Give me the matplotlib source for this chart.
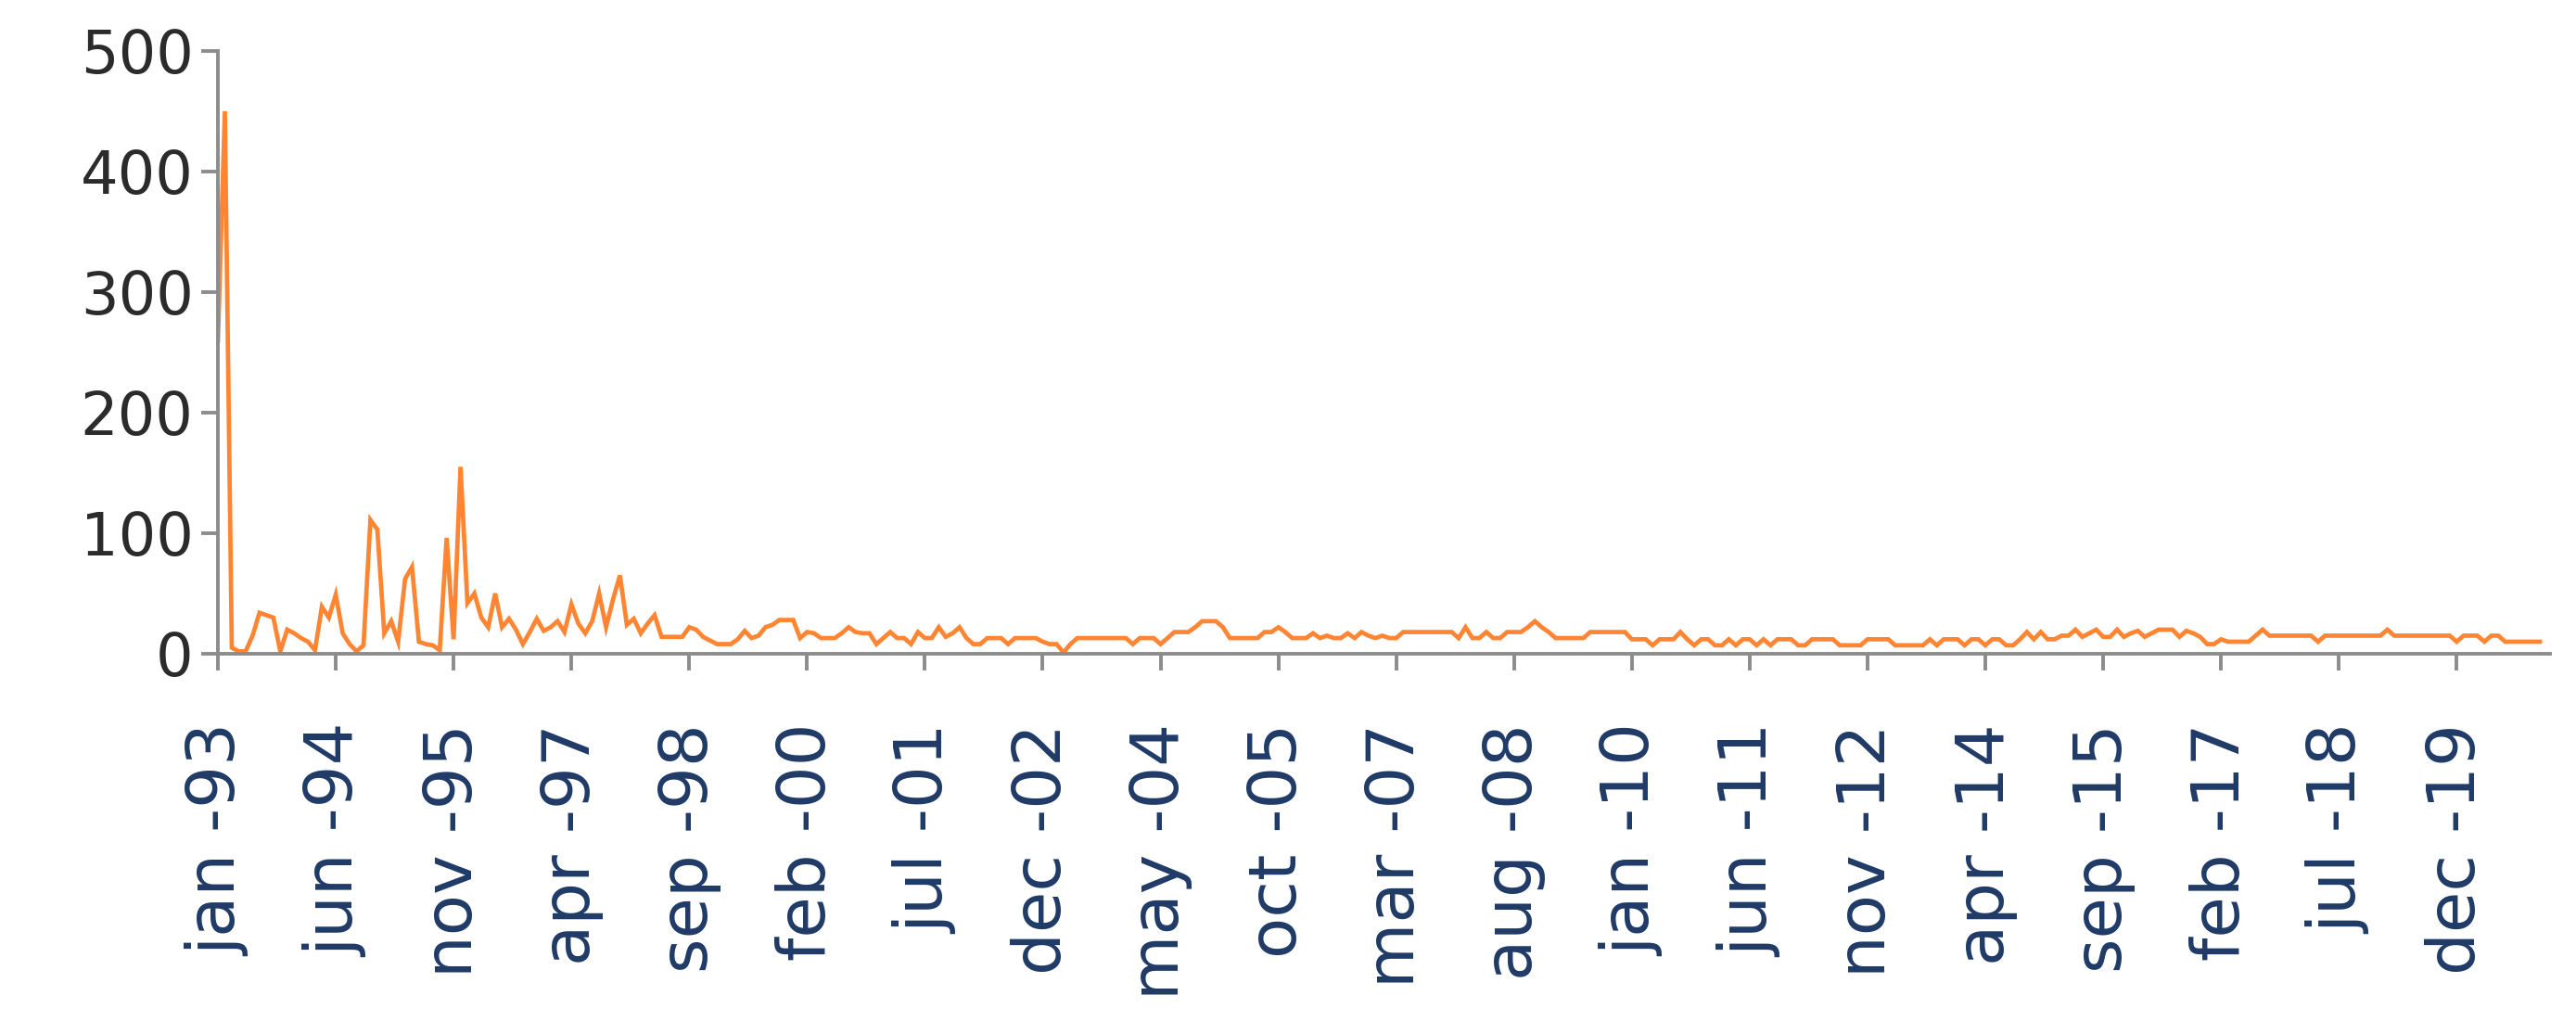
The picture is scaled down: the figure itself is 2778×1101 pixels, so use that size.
import matplotlib
matplotlib.use("Agg")
import matplotlib.pyplot as plt
import numpy as np

# Monthly values, jan-93 .. dec-20 (one row per year)
values_1993_1999 = [
    260, 450, 5, 2, 2, 15, 34, 32, 30, 2, 20, 17,
    13, 10, 3, 39, 30, 49, 17, 8, 2, 7, 111, 103,
    17, 27, 10, 62, 72, 10, 8, 7, 3, 96, 12, 155,
    42, 50, 30, 22, 50, 22, 29, 20, 8, 18, 29, 19,
    22, 27, 18, 41, 25, 17, 27, 50, 22, 45, 65, 24,
    29, 17, 25, 32, 14, 14, 14, 14, 22, 20, 14, 11,
    8, 8, 8, 12, 19, 13, 15, 22, 24, 28, 28, 28,
]
values_2000_2009 = [
    13, 18, 17, 13, 13, 13, 17, 22, 18, 17, 17, 8,
    13, 18, 13, 13, 8, 18, 13, 13, 22, 14, 17, 22,
    13, 8, 8, 13, 13, 13, 8, 13, 13, 13, 13, 10,
    8, 8, 1, 8, 13, 13, 13, 13, 13, 13, 13, 13,
    8, 13, 13, 13, 8, 13, 18, 18, 18, 22, 27, 27,
    27, 22, 13, 13, 13, 13, 13, 18, 18, 22, 18, 13,
    13, 13, 17, 13, 15, 13, 13, 17, 13, 18, 15, 13,
    15, 13, 13, 18, 18, 18, 18, 18, 18, 18, 18, 13,
    22, 13, 13, 18, 13, 13, 18, 18, 18, 22, 27, 22,
    18, 13, 13, 13, 13, 13, 18, 18, 18, 18, 18, 18,
]
values_2010_2020 = [
    12, 12, 12, 7, 12, 12, 12, 18, 12, 7, 12, 12,
    7, 7, 12, 7, 12, 12, 7, 12, 7, 12, 12, 12,
    7, 7, 12, 12, 12, 12, 7, 7, 7, 7, 12, 12,
    12, 12, 7, 7, 7, 7, 7, 12, 7, 12, 12, 12,
    7, 12, 12, 7, 12, 12, 7, 7, 12, 18, 12, 18,
    12, 12, 15, 15, 20, 14, 17, 20, 14, 14, 20, 14,
    17, 19, 14, 17, 20, 20, 20, 14, 19, 17, 14, 8,
    8, 12, 10, 10, 10, 10, 15, 20, 15, 15, 15, 15,
    15, 15, 15, 10, 15, 15, 15, 15, 15, 15, 15, 15,
    15, 20, 15, 15, 15, 15, 15, 15, 15, 15, 15, 10,
    15, 15, 15, 10, 15, 15, 10, 10, 10, 10, 10, 10,
]
values = values_1993_1999 + values_2000_2009 + values_2010_2020

tick_labels = ["jan -93", "jun -94", "nov -95", "apr -97", "sep -98", "feb -00",
               "jul -01", "dec -02", "may -04", "oct -05", "mar -07", "aug -08",
               "jan -10", "jun -11", "nov -12", "apr -14", "sep -15", "feb -17",
               "jul -18", "dec -19"]
label_step = 17
y_ticks = [0, 100, 200, 300, 400, 500]

x = np.arange(len(values))

fig = plt.figure(figsize=(27.78, 11.01), dpi=100)
ax = fig.add_axes([0.0846, 0.3597, 0.9054, 0.5904])

ax.plot(x, values, color="#FF8533", linewidth=3.4, solid_joinstyle="miter")

ax.set_xlim(0, len(values) + 0.5)
ax.set_ylim(0, 500)

axis_color = "#8C8C8C"
for side in ["top", "right"]:
    ax.spines[side].set_visible(False)
for side in ["left", "bottom"]:
    ax.spines[side].set_color(axis_color)
    ax.spines[side].set_linewidth(2.8)

ax.set_yticks(y_ticks)
ax.set_yticklabels([str(v) for v in y_ticks], fontsize=46, color="#2B2B2B",
                   family="DejaVu Sans")
ax.set_xticks(np.arange(0, len(tick_labels) * label_step, label_step))
ax.set_xticklabels(tick_labels, rotation=90, fontsize=52, color="#1F3A66",
                   family="DejaVu Sans")

ax.tick_params(axis="y", direction="out", length=13, width=2.8, color=axis_color, pad=6)
ax.tick_params(axis="x", direction="out", length=13, width=2.8, color=axis_color, pad=41)

fig.savefig("out.png", dpi=100, facecolor="white")
